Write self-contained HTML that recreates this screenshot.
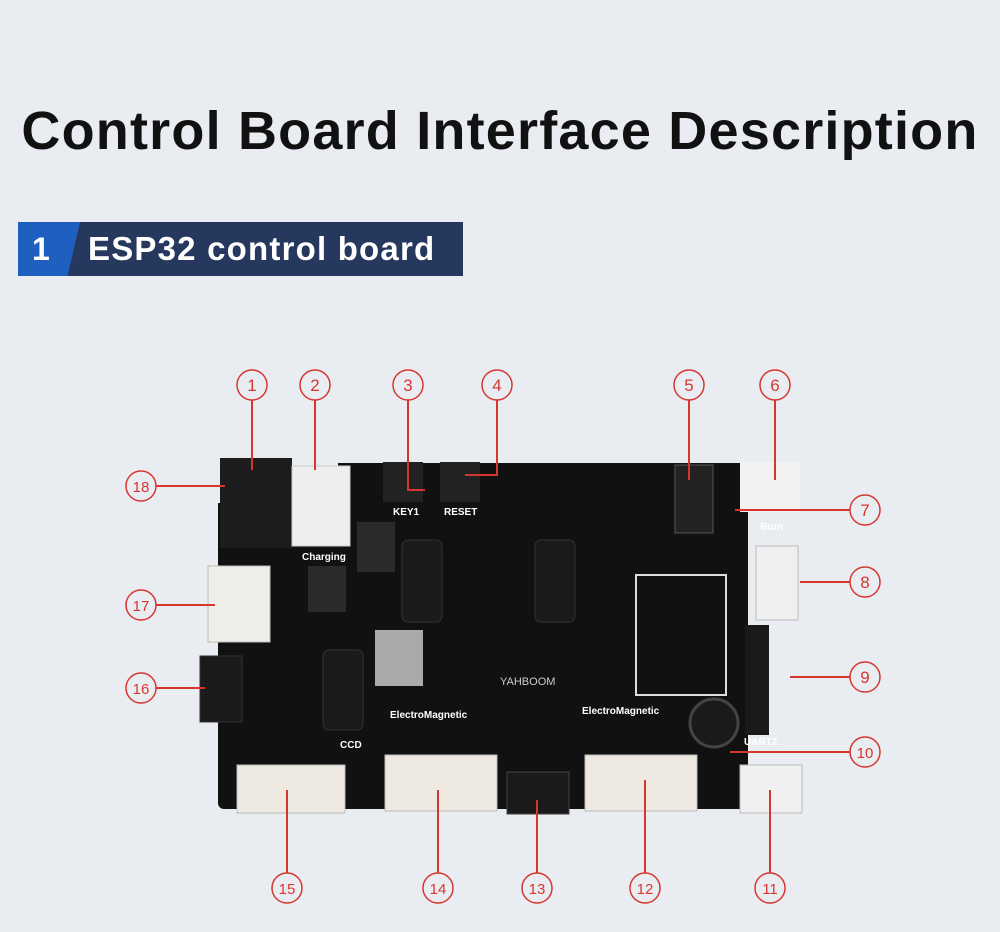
<!DOCTYPE html>
<html><head><meta charset="utf-8"><style>
html,body{margin:0;padding:0;background:#e9edf2;}
body{width:1000px;height:932px;overflow:hidden;position:relative;font-family:"Liberation Sans",sans-serif;}
h1{position:absolute;left:0;top:100px;width:1000px;margin:0;text-align:center;font-size:54px;font-weight:bold;color:#111;letter-spacing:1.2px;white-space:nowrap;}
.ban{position:absolute;left:18px;top:222px;width:445px;height:54px;background:#26385e;}
.ban .n{position:absolute;left:0;top:0;width:62px;height:54px;background:#1f5fc0;clip-path:polygon(0 0,100% 0,80% 100%,0 100%);color:#fff;font-weight:bold;font-size:32px;line-height:54px;text-indent:14px;}
.ban .t{position:absolute;left:70px;top:0;line-height:54px;color:#fff;font-size:33px;font-weight:bold;letter-spacing:1.2px;}
svg{position:absolute;left:0;top:0;}
</style></head><body>
<h1>Control Board Interface Description</h1>
<div class="ban"><div class="n">1</div><div class="t">ESP32 control board</div></div>
<svg width="1000" height="932" viewBox="0 0 1000 932">
<rect x="218" y="463" width="530" height="346" rx="6" fill="#111"/>
<rect x="218" y="463" width="120" height="40" fill="#e9edf2"/>
<rect x="220" y="458" width="72" height="90" fill="#1c1c1c"/>
<rect x="292" y="466" width="58" height="80" fill="#eee" stroke="#ccc"/>
<rect x="208" y="566" width="62" height="76" fill="#f0eee8" stroke="#bbb"/>
<rect x="200" y="656" width="42" height="66" fill="#1a1a1a" stroke="#333"/>
<rect x="675" y="465" width="38" height="68" fill="#222" stroke="#555"/>
<rect x="740" y="462" width="60" height="50" fill="#f2f2f2"/>
<rect x="756" y="546" width="42" height="74" fill="#f0f0f0" stroke="#bbb"/>
<rect x="745" y="625" width="24" height="110" fill="#1a1a1a"/>
<rect x="740" y="765" width="62" height="48" fill="#f0f0f0" stroke="#bbb"/>
<rect x="237" y="765" width="108" height="48" fill="#eeeae2" stroke="#bbb"/>
<rect x="385" y="755" width="112" height="56" fill="#eeeae2" stroke="#bbb"/>
<rect x="507" y="772" width="62" height="42" fill="#1a1a1a" stroke="#444"/>
<rect x="585" y="755" width="112" height="56" fill="#eeeae2" stroke="#bbb"/>
<rect x="636" y="575" width="90" height="120" fill="none" stroke="#ddd" stroke-width="2"/>
<circle cx="714" cy="723" r="24" fill="#1a1a1a" stroke="#444" stroke-width="3"/>
<rect x="402" y="540" width="40" height="82" rx="6" fill="#1a1a1a" stroke="#333"/>
<rect x="535" y="540" width="40" height="82" rx="6" fill="#1a1a1a" stroke="#333"/>
<rect x="323" y="650" width="40" height="80" rx="6" fill="#1a1a1a" stroke="#333"/>
<rect x="375" y="630" width="48" height="56" fill="#aaa"/>
<rect x="357" y="522" width="38" height="50" fill="#2a2a2a"/>
<rect x="308" y="566" width="38" height="46" fill="#2a2a2a"/>
<rect x="383" y="462" width="40" height="40" fill="#222"/>
<rect x="440" y="462" width="40" height="40" fill="#222"/>
<g fill="#fff" font-size="10" font-weight="bold">
<text x="444" y="515">RESET</text><text x="393" y="515">KEY1</text>
<text x="302" y="560">Charging</text><text x="390" y="718">ElectroMagnetic</text>
<text x="582" y="714">ElectroMagnetic</text><text x="340" y="748">CCD</text>
<text x="760" y="530">Burn</text><text x="744" y="745">UART2</text>
<text x="500" y="685" font-weight="normal" font-size="11" fill="#ccc">YAHBOOM</text>
</g>
<g stroke="#d7362f" stroke-width="2" fill="none">
<line x1="252" y1="400" x2="252" y2="470"/>
<line x1="315" y1="400" x2="315" y2="470"/>
<polyline points="408,400 408,490 425,490"/>
<polyline points="497,400 497,475 465,475"/>
<line x1="689" y1="400" x2="689" y2="480"/>
<line x1="775" y1="400" x2="775" y2="480"/>
<line x1="735" y1="510" x2="850" y2="510"/>
<line x1="800" y1="582" x2="850" y2="582"/>
<line x1="790" y1="677" x2="850" y2="677"/>
<line x1="730" y1="752" x2="850" y2="752"/>
<line x1="770" y1="790" x2="770" y2="873"/>
<line x1="645" y1="780" x2="645" y2="873"/>
<line x1="537" y1="800" x2="537" y2="873"/>
<line x1="438" y1="790" x2="438" y2="873"/>
<line x1="287" y1="790" x2="287" y2="873"/>
<line x1="156" y1="486" x2="225" y2="486"/>
<line x1="156" y1="605" x2="215" y2="605"/>
<line x1="156" y1="688" x2="205" y2="688"/>
</g>
<g fill="#e9edf2" stroke="#d7362f" stroke-width="1.5">
<circle cx="252" cy="385" r="15"/><circle cx="315" cy="385" r="15"/><circle cx="408" cy="385" r="15"/>
<circle cx="497" cy="385" r="15"/><circle cx="689" cy="385" r="15"/><circle cx="775" cy="385" r="15"/>
<circle cx="865" cy="510" r="15"/><circle cx="865" cy="582" r="15"/><circle cx="865" cy="677" r="15"/>
<circle cx="865" cy="752" r="15"/><circle cx="770" cy="888" r="15"/><circle cx="645" cy="888" r="15"/>
<circle cx="537" cy="888" r="15"/><circle cx="438" cy="888" r="15"/><circle cx="287" cy="888" r="15"/>
<circle cx="141" cy="486" r="15"/><circle cx="141" cy="605" r="15"/><circle cx="141" cy="688" r="15"/>
</g>
<g fill="#d7362f" font-size="17" text-anchor="middle" font-family="Liberation Sans,sans-serif">
<text x="252" y="391">1</text><text x="315" y="391">2</text><text x="408" y="391">3</text>
<text x="497" y="391">4</text><text x="689" y="391">5</text><text x="775" y="391">6</text>
<text x="865" y="516">7</text><text x="865" y="588">8</text><text x="865" y="683">9</text>
<text x="865" y="758" font-size="15">10</text><text x="770" y="894" font-size="15">11</text><text x="645" y="894" font-size="15">12</text>
<text x="537" y="894" font-size="15">13</text><text x="438" y="894" font-size="15">14</text><text x="287" y="894" font-size="15">15</text>
<text x="141" y="492" font-size="15">18</text><text x="141" y="611" font-size="15">17</text><text x="141" y="694" font-size="15">16</text>
</g>
</svg>
</body></html>
